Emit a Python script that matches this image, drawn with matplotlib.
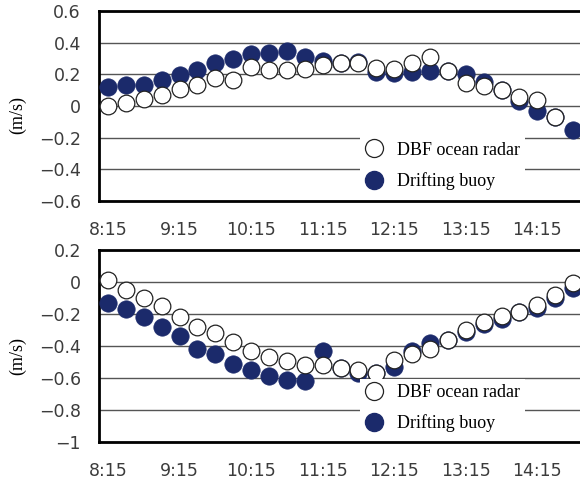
import numpy as np
import matplotlib.pyplot as plt
from matplotlib.lines import Line2D

# 15-minute samples from 8:15 to 14:45
times = ["8:15", "8:30", "8:45", "9:00", "9:15", "9:30", "9:45", "10:00", "10:15",
         "10:30", "10:45", "11:00", "11:15", "11:30", "11:45", "12:00", "12:15",
         "12:30", "12:45", "13:00", "13:15", "13:30", "13:45", "14:00", "14:15",
         "14:30", "14:45"]
xtick_labels = ["8:15", "9:15", "10:15", "11:15", "12:15", "13:15", "14:15"]

# top panel (m/s)
radar_top = [0.00, 0.02, 0.045, 0.07, 0.11, 0.13, 0.175, 0.165, 0.245, 0.225,
             0.225, 0.235, 0.26, 0.27, 0.27, 0.24, 0.235, 0.27, 0.31, 0.22,
             0.145, 0.125, 0.10, 0.06, 0.04, -0.07, np.nan]
buoy_top = [0.12, 0.13, 0.13, 0.165, 0.195, 0.23, 0.27, 0.295, 0.33, 0.335,
            0.35, 0.31, 0.285, 0.27, 0.28, 0.215, 0.21, 0.215, 0.22, 0.22,
            0.20, 0.15, 0.10, 0.03, -0.03, -0.07, -0.15]

# bottom panel (m/s)
radar_bot = [0.01, -0.05, -0.10, -0.15, -0.22, -0.28, -0.32, -0.375, -0.43, -0.47,
             -0.495, -0.52, -0.52, -0.54, -0.55, -0.57, -0.49, -0.45, -0.42, -0.365,
             -0.30, -0.25, -0.21, -0.19, -0.145, -0.08, -0.005]
buoy_bot = [-0.13, -0.17, -0.22, -0.28, -0.34, -0.42, -0.45, -0.51, -0.55, -0.59,
            -0.61, -0.62, -0.43, -0.54, -0.57, -0.57, -0.53, -0.43, -0.38, -0.365,
            -0.315, -0.265, -0.23, -0.19, -0.16, -0.10, -0.04]

yticks_top = [0.6, 0.4, 0.2, 0, -0.2, -0.4, -0.6]
ytick_labels_top = ["0.6", "0.4", "0.2", "0", "\u22120.2", "\u22120.4", "\u22120.6"]
yticks_bot = [0.2, 0, -0.2, -0.4, -0.6, -0.8, -1]
ytick_labels_bot = ["0.2", "0", "\u22120.2", "\u22120.4", "\u22120.6", "\u22120.8", "\u22121"]

navy = "#1b2a6b"
W, H = 580, 483


def draw_panel(ax, radar, buoy, yticks, ylabels, leg_top):
    x = np.arange(len(times))
    ax.plot(x, buoy, "o", ms=12.5, mfc=navy, mec=navy, mew=0.5, ls="none", zorder=3)
    ax.plot(x, radar, "o", ms=12, mfc="white", mec="#222222", mew=0.9, ls="none", zorder=4)
    ax.set_xlim(-0.5, len(times) - 0.5)
    ax.set_ylim(min(yticks), max(yticks))
    ax.set_yticks(yticks)
    ax.set_yticklabels(ylabels)
    ax.set_xticks(x[::4])
    ax.set_xticklabels(xtick_labels)
    ax.tick_params(length=0, labelsize=12.5, colors="#3c3c3c")
    ax.tick_params(axis="y", pad=13)
    ax.tick_params(axis="x", pad=14.5)
    for lab in ax.get_xticklabels() + ax.get_yticklabels():
        lab.set_family("DejaVu Sans")
    ax.yaxis.grid(True, color="#555555", lw=1.0)
    ax.set_axisbelow(True)
    for s in ["left", "top", "bottom"]:
        ax.spines[s].set_linewidth(2.0)
        ax.spines[s].set_color("black")
    ax.spines["right"].set_visible(False)
    ax.set_ylabel("(m/s)", family="Liberation Serif", fontsize=13)
    ax.yaxis.set_label_coords(-0.15, 0.45)

    handles = [Line2D([], [], marker="o", ls="none", ms=13, mfc="white", mec="#222222", mew=0.9),
               Line2D([], [], marker="o", ls="none", ms=13, mfc=navy, mec=navy)]
    leg = ax.legend(handles, ["DBF ocean radar", "Drifting buoy"], loc="upper left",
                    bbox_to_anchor=(0.54, leg_top), frameon=True, fancybox=False,
                    framealpha=1, edgecolor="none", facecolor="white",
                    prop={"family": "Liberation Serif", "size": 13},
                    handlelength=1.0, handletextpad=0.75, labelspacing=0.75,
                    borderpad=0.3, borderaxespad=0)
    leg.set_zorder(5)


fig = plt.figure(figsize=(W / 100, H / 100), dpi=100)
ax1 = fig.add_axes([99 / W, 1 - 201 / H, 483 / W, 190 / H])
ax2 = fig.add_axes([99 / W, 1 - 442 / H, 483 / W, 192 / H])

draw_panel(ax1, radar_top, buoy_top, yticks_top, ytick_labels_top, 0.34)
draw_panel(ax2, radar_bot, buoy_bot, yticks_bot, ytick_labels_bot, 0.33)

plt.savefig("out.png", dpi=100)
